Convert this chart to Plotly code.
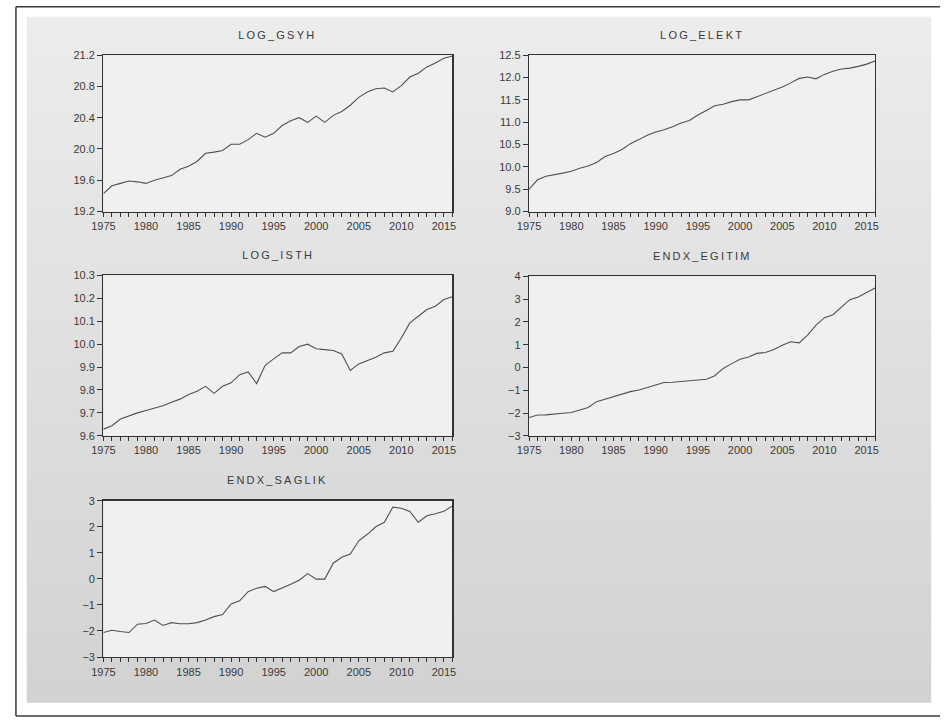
import plotly.graph_objects as go

years = list(range(1975, 2017))

log_gsyh = [19.43, 19.53, 19.56, 19.59, 19.58, 19.56, 19.60, 19.63, 19.66, 19.74,
            19.78, 19.84, 19.945, 19.96, 19.98, 20.06, 20.06, 20.12, 20.20, 20.15,
            20.20, 20.30, 20.36, 20.40, 20.34, 20.42, 20.34, 20.43, 20.48, 20.56,
            20.66, 20.73, 20.77, 20.78, 20.73, 20.81, 20.92, 20.97, 21.05, 21.10,
            21.16, 21.19]

log_elekt = [9.50, 9.71, 9.79, 9.82, 9.86, 9.90, 9.97, 10.02, 10.10, 10.23,
             10.30, 10.39, 10.52, 10.61, 10.71, 10.78, 10.83, 10.90, 10.98, 11.04,
             11.16, 11.26, 11.37, 11.40, 11.46, 11.50, 11.50, 11.57, 11.64, 11.72,
             11.79, 11.88, 11.98, 12.01, 11.97, 12.07, 12.14, 12.19, 12.21, 12.25,
             12.30, 12.37]

log_isth = [9.629, 9.644, 9.673, 9.688, 9.700, 9.710, 9.721, 9.731, 9.746, 9.760,
            9.780, 9.794, 9.816, 9.785, 9.816, 9.831, 9.867, 9.879, 9.828, 9.908,
            9.936, 9.962, 9.962, 9.990, 10.000, 9.980, 9.976, 9.972, 9.957, 9.885,
            9.914, 9.928, 9.943, 9.962, 9.969, 10.027, 10.093, 10.122, 10.151, 10.166,
            10.195, 10.207]

endx_egitim = [-2.20, -2.09, -2.08, -2.03, -2.01, -1.98, -1.87, -1.76, -1.50, -1.39,
               -1.28, -1.16, -1.06, -0.99, -0.88, -0.77, -0.66, -0.65, -0.62, -0.58,
               -0.53, -0.52, -0.36, -0.04, 0.17, 0.36, 0.46, 0.62, 0.66, 0.79,
               0.98, 1.13, 1.08, 1.42, 1.86, 2.19, 2.32, 2.66, 2.98, 3.10,
               3.31, 3.49]

endx_saglik = [-2.06, -1.97, -2.02, -2.06, -1.74, -1.71, -1.58, -1.79, -1.68, -1.72,
               -1.72, -1.68, -1.58, -1.45, -1.37, -0.96, -0.84, -0.49, -0.36, -0.29,
               -0.49, -0.36, -0.21, -0.05, 0.20, -0.01, -0.01, 0.60, 0.83, 0.95,
               1.46, 1.71, 2.00, 2.17, 2.75, 2.71, 2.59, 2.17, 2.42, 2.50,
               2.59, 2.80]

titles = ["LOG_GSYH", "LOG_ELEKT", "LOG_ISTH", "ENDX_EGITIM", "ENDX_SAGLIK"]
series = [log_gsyh, log_elekt, log_isth, endx_egitim, endx_saglik]
y_ranges = [[19.2, 21.2], [9.0, 12.5], [9.6, 10.3], [-3, 4], [-3, 3]]
y_dticks = [0.4, 0.5, 0.1, 1, 1]
y_formats = [".1f", ".1f", ".1f", "d", "d"]

W, H = 944, 725
# pixel boxes: (left, right, top, bottom)
boxes = [(93, 448, 50, 209), (526, 878, 50, 209),
         (93, 448, 274, 437), (526, 878, 275, 437),
         (93, 448, 503, 662)]

FONT = "Liberation Sans, Arial, sans-serif"
fig = go.Figure()
shapes = []
annotations = []

# page frame and gradient background
gy0, gy1 = 11, 708
nb = 70
for i in range(nb):
    t0 = gy0 + (gy1 - gy0) * i / nb
    t1 = gy0 + (gy1 - gy0) * (i + 1) / nb + 0.6
    c = int(round(236 - (236 - 210) * i / (nb - 1)))
    shapes.append(dict(type="rect", xref="paper", yref="paper", layer="below",
                       x0=15 / W, x1=935 / W, y0=1 - t1 / H, y1=1 - t0 / H,
                       fillcolor=f"rgb({c},{c},{c})", line=dict(width=0)))
for (x0, y0, x1, y1) in [(4, 0.8, 4, 722), (4, 0.8, 944, 0.8), (4, 722, 944, 722)]:
    shapes.append(dict(type="line", xref="paper", yref="paper", layer="below",
                       x0=x0 / W, x1=x1 / W, y0=1 - y0 / H, y1=1 - y1 / H,
                       line=dict(color="#3a3a3a", width=1.5)))

layout = {}
for k, (title, ys, yr, dt, fmt, box) in enumerate(zip(titles, series, y_ranges, y_dticks, y_formats, boxes)):
    n = "" if k == 0 else str(k + 1)
    xa, ya = "x" + n, "y" + n
    l, r, t, b = box
    fig.add_trace(go.Scatter(x=years, y=ys, mode="lines", xaxis=xa, yaxis=ya,
                             line=dict(color="#505050", width=1.1), showlegend=False,
                             hoverinfo="skip"))
    layout["xaxis" + n] = dict(
        domain=[l / W, r / W], anchor=ya, range=[1975, 2016],
        tickmode="linear", tick0=1975, dtick=5, ticks="outside", ticklen=4,
        tickcolor="#333", tickwidth=1,
        minor=dict(dtick=1, tick0=1975, ticks="outside", ticklen=4, tickcolor="#333", tickwidth=1, showgrid=False),
        showline=True, linecolor="#333", linewidth=1.3, mirror=True,
        showgrid=False, zeroline=False,
        tickfont=dict(family=FONT, size=11, color="#3a3a3a"))
    layout["yaxis" + n] = dict(
        domain=[1 - b / H, 1 - t / H], anchor=xa, range=yr,
        tickmode="linear", tick0=yr[0], dtick=dt, tickformat=fmt,
        ticks="outside", ticklen=5, tickcolor="#333", tickwidth=1,
        showline=True, linecolor="#333", linewidth=1.3, mirror=True,
        showgrid=False, zeroline=False,
        tickfont=dict(family=FONT, size=11, color="#3a3a3a"))
    shapes.append(dict(type="rect", xref=xa + " domain", yref=ya + " domain", layer="below",
                       x0=0, x1=1, y0=0, y1=1, fillcolor="#f0f0f0", line=dict(width=0)))
    ty = t - 21
    annotations.append(dict(text=title, xref="paper", yref="paper",
                            x=(l + r) / 2 / W, y=1 - ty / H, xanchor="center", yanchor="middle",
                            showarrow=False, font=dict(family=FONT, size=11, color="#3a3a3a")))

fig.update_layout(**layout)
fig.update_layout(width=W, height=H, margin=dict(l=0, r=0, t=0, b=0),
                  paper_bgcolor="white", plot_bgcolor="rgba(0,0,0,0)",
                  shapes=shapes, annotations=annotations, showlegend=False)

post = """
document.documentElement.style.margin='0';
document.documentElement.style.padding='0';
document.documentElement.style.overflow='hidden';
document.body.style.margin='0';
document.body.style.padding='0';
document.body.style.overflow='hidden';
document.querySelectorAll('.annotation-text').forEach(function(e){e.style.letterSpacing='2.2px';});
"""
fig.write_html("out.html", post_script=post, config={"displayModeBar": False, "staticPlot": True})
